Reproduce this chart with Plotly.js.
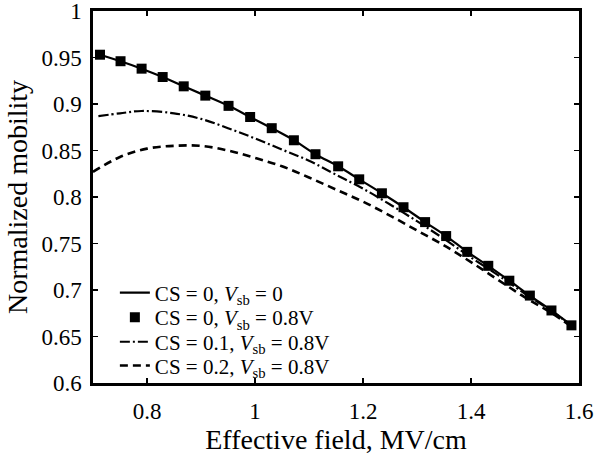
<!DOCTYPE html>
<html>
<head>
<meta charset="utf-8">
<script src="https://cdn.plot.ly/plotly-3.0.1.min.js"></script>
<style>html,body{margin:0;padding:0;background:#fff;}#chart{width:601px;height:456px;}</style>
</head>
<body>
<div id="chart"></div>
<script>
// CS = 0 (solid line and square markers, same values)
var xCS0 = [0.713, 0.751, 0.790, 0.829, 0.868, 0.908, 0.951, 0.991, 1.031, 1.072, 1.112, 1.154,
            1.193, 1.235, 1.275, 1.315, 1.354, 1.393, 1.432, 1.471, 1.509, 1.549, 1.586];
var yCS0 = [0.953, 0.946, 0.938, 0.929, 0.919, 0.909, 0.898, 0.886, 0.874, 0.861, 0.846, 0.833,
            0.819, 0.804, 0.789, 0.773, 0.758, 0.741, 0.726, 0.710, 0.694, 0.678, 0.662];
// CS = 0.1 (dash-dot)
var xCS01 = [0.71, 0.75, 0.79, 0.85, 0.90, 0.95, 1.00, 1.05, 1.10, 1.15, 1.20, 1.25, 1.30, 1.35, 1.40, 1.45, 1.50, 1.55, 1.59];
var yCS01 = [0.887, 0.890, 0.8925, 0.890, 0.884, 0.874, 0.863, 0.851, 0.839, 0.824, 0.809, 0.792, 0.774, 0.755, 0.735, 0.716, 0.696, 0.677, 0.660];
// CS = 0.2 (dashed)
var xCS02 = [0.70, 0.75, 0.80, 0.85, 0.90, 0.95, 1.00, 1.05, 1.10, 1.15, 1.20, 1.25, 1.30, 1.35, 1.40, 1.45, 1.50, 1.55, 1.59];
var yCS02 = [0.827, 0.843, 0.852, 0.855, 0.855, 0.850, 0.842, 0.833, 0.821, 0.808, 0.795, 0.780, 0.764, 0.748, 0.730, 0.711, 0.692, 0.675, 0.659];

var eq = "&nbsp;=&nbsp;";
var names = ["CS" + eq + "0, <i>V</i><sub>sb</sub>" + eq + "0",
             "CS" + eq + "0, <i>V</i><sub>sb</sub>" + eq + "0.8V",
             "CS" + eq + "0.1, <i>V</i><sub>sb</sub>" + eq + "0.8V",
             "CS" + eq + "0.2, <i>V</i><sub>sb</sub>" + eq + "0.8V"];

var xTicks = [0.8, 1, 1.2, 1.4, 1.6];
var xTickText = ["0.8", "1", "1.2", "1.4", "1.6"];
var yTicks = [0.6, 0.65, 0.7, 0.75, 0.8, 0.85, 0.9, 0.95, 1];
var yTickText = ["0.6", "0.65", "0.7", "0.75", "0.8", "0.85", "0.9", "0.95", "1"];

var font = "Liberation Serif, Times New Roman, serif";

var traces = [
  {x: xCS0, y: yCS0, name: names[0], mode: "lines", legend: "legend",
   line: {color: "#000", width: 2.2, shape: "spline"}},
  {x: xCS0, y: yCS0, name: names[1], mode: "markers", legend: "legend2",
   marker: {symbol: "square", size: 10, color: "#000"}},
  {x: xCS01, y: yCS01, name: names[2], mode: "lines", legend: "legend3",
   line: {color: "#000", width: 2.2, dash: "10px,3px,2px,3px", shape: "spline"}},
  {x: xCS02, y: yCS02, name: names[3], mode: "lines", legend: "legend4",
   line: {color: "#000", width: 2.6, dash: "8px,5px", shape: "spline"}}
];

var axisCommon = {
  showgrid: false, zeroline: false, showline: true, linecolor: "#000", linewidth: 2.6,
  mirror: "ticks", ticks: "inside", ticklen: 5, tickwidth: 1.5, tickcolor: "#000",
  ticklabeloverflow: "allow",
  tickfont: {family: font, size: 23, color: "#000"}
};

function leg(yc) {
  return {x: 0.045, y: yc, xanchor: "left", yanchor: "middle", bgcolor: "rgba(255,255,255,0)",
          borderwidth: 0, font: {family: font, size: 21, color: "#000"}};
}

var layout = {
  width: 601, height: 456,
  margin: {l: 93, r: 22, t: 11, b: 73},
  paper_bgcolor: "#fff", plot_bgcolor: "#fff",
  showlegend: true,
  legend: leg(0.242),
  legend2: leg(0.176),
  legend3: leg(0.110),
  legend4: leg(0.046),
  xaxis: Object.assign({}, axisCommon, {
    range: [0.7, 1.6], tickvals: xTicks, ticktext: xTickText, ticklabelstandoff: 6,
    title: {text: "Effective field, MV/cm", font: {family: font, size: 28, color: "#000"}, standoff: 6}
  }),
  yaxis: Object.assign({}, axisCommon, {
    range: [0.6, 1], tickvals: yTicks, ticktext: yTickText, ticklabelstandoff: 4,
    title: {text: "Normalized mobility", font: {family: font, size: 28, color: "#000"}, standoff: 6}
  })
};

Plotly.newPlot("chart", traces, layout, {staticPlot: true, displayModeBar: false});
</script>
</body>
</html>
